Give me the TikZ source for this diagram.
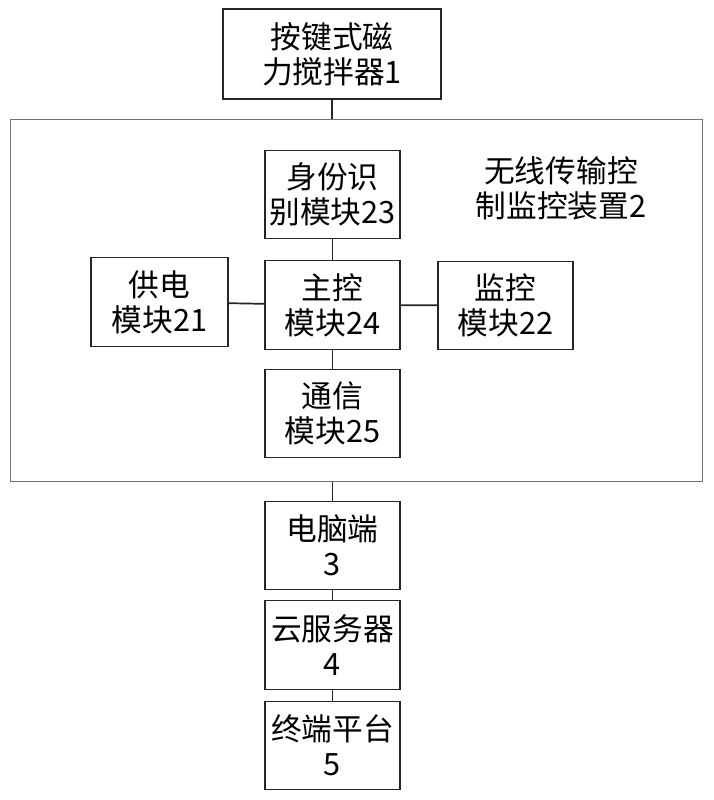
\documentclass[tikz,border=0pt]{standalone}
\usepackage{fontspec}
\setmainfont{Noto Sans CJK SC}
\usetikzlibrary{positioning}

\begin{document}
\begin{tikzpicture}[x=0.7pt, y=-0.7pt,
  blk/.style={draw=black!85, line width=0.9pt, minimum width=94.5pt, minimum height=62pt,
    align=center, inner sep=1pt, font=\fontsize{21.5}{24.5}\selectfont},
  outer/.style={draw=black!55, line width=0.7pt, minimum width=485pt, minimum height=253.4pt, inner sep=0pt},
  lnk/.style={draw=black!85, line width=1.2pt}]
\useasboundingbox (0,0) rectangle (714,800);
\node[outer] (dev) at (356.5,300) {};
\node[blk, minimum width=152.6pt, minimum height=63pt] (n1) at (332,54) {按键式磁\\力搅拌器1};
\node[blk] (n23) at (332.5,194.5) {身份识\\别模块23};
\node[blk] (n24) at (332.5,305) {主控\\模块24};
\node[blk] (n25) at (332.5,413.5) {通信\\模块25};
\node[blk, minimum width=96pt] (n21) at (159.5,302) {供电\\模块21};
\node[blk] (n22) at (505.5,305.5) {监控\\模块22};
\node[align=center, font=\fontsize{21.5}{24.5}\selectfont] (lbl) at (561,188) {无线传输控\\制监控装置2};
\node[blk] (n3) at (332.5,545.5) {电脑端\\3};
\node[blk] (n4) at (332.5,645) {云服务器\\4};
\node[blk] (n5) at (332.5,745.5) {终端平台\\5};
\draw[lnk] (n1.south) -- (n1.south |- dev.north);
\draw[lnk] (n23) -- (n24);
\draw[lnk] (n24) -- (n25);
\draw[lnk] (n21) -- (n24);
\draw[lnk] (n24) -- (n22);
\draw[lnk] (n3.north |- dev.south) -- (n3.north);
\draw[lnk] (n3) -- (n4);
\draw[lnk] (n4) -- (n5);
\end{tikzpicture}
\end{document}
